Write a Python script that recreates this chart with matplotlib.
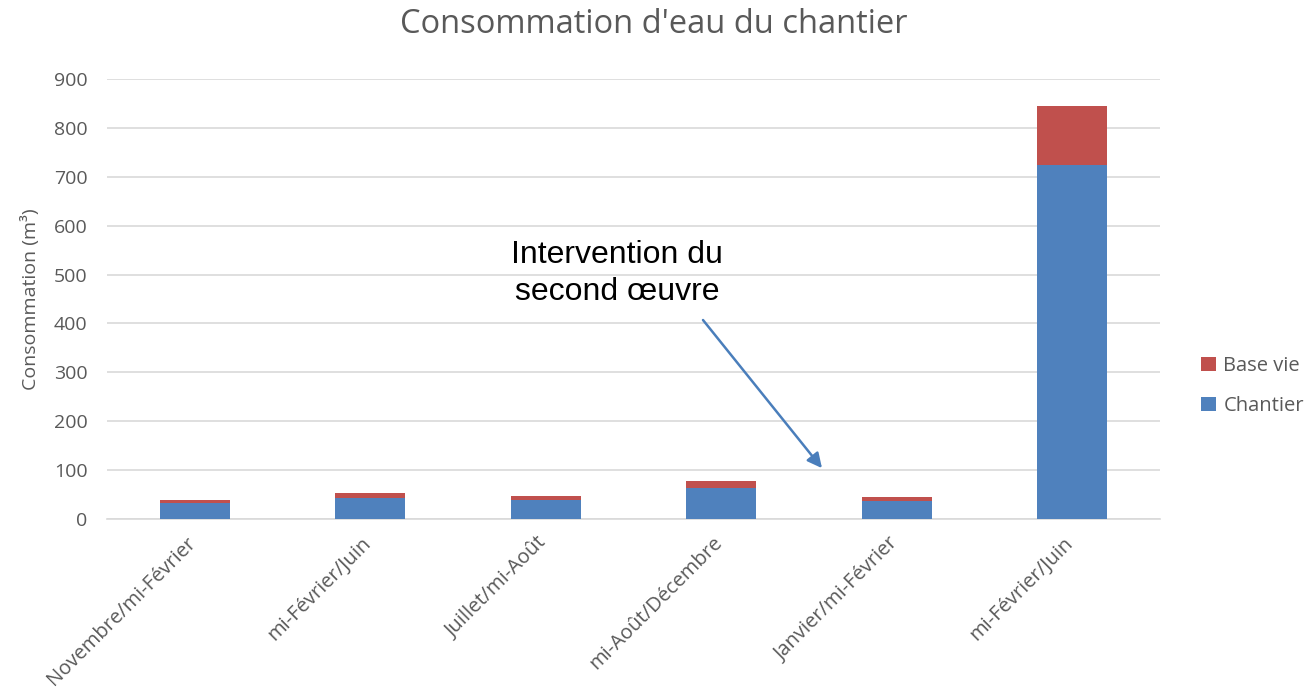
import matplotlib
matplotlib.use("Agg")
import matplotlib.pyplot as plt
import matplotlib.transforms as mtransforms
import numpy as np

categories = ["Novembre/mi-Février", "mi-Février/Juin", "Juillet/mi-Août",
              "mi-Août/Décembre", "Janvier/mi-Février", "mi-Février/Juin"]
chantier = [33, 43, 38, 63, 37, 724]
base_vie = [6, 11, 10, 15, 9, 120]
yticks = [0, 100, 200, 300, 400, 500, 600, 700, 800, 900]

plt.rcParams['font.family'] = ['Open Sans', 'DejaVu Sans']
gray = '#595959'
blue = '#4f81bd'
red = '#c0504d'

fig = plt.figure(figsize=(13.08, 7.0), dpi=100)
ax = fig.add_axes([107/1308, 1 - 519/700, (1160-107)/1308, (519-79)/700])

x = np.arange(len(categories))
b1 = ax.bar(x, chantier, width=0.4, color=blue, label='Chantier', zorder=3)
b2 = ax.bar(x, base_vie, width=0.4, bottom=chantier, color=red, label='Base vie', zorder=3)

ax.set_xlim(-0.5, len(categories) - 0.5)
ax.set_ylim(0, 900)
ax.set_yticks(yticks)
ax.set_yticklabels([str(v) for v in yticks], fontsize=14, color=gray)
ax.yaxis.grid(True, color='#d9d9d9', linewidth=1.2, zorder=0)
ax.set_axisbelow(True)
for s in ['top', 'right', 'left']:
    ax.spines[s].set_visible(False)
ax.spines['bottom'].set_color('#d9d9d9')
ax.spines['bottom'].set_linewidth(1.2)
ax.tick_params(axis='both', length=0)
ax.tick_params(axis='y', pad=14)
ax.set_xticks(x)
ax.set_xticklabels(categories, rotation=45, ha='right', rotation_mode='anchor',
                   fontsize=14.5, color=gray)
ax.tick_params(axis='x', pad=10)
offset = mtransforms.ScaledTranslation(-9/100, 0, fig.dpi_scale_trans)
for lbl in ax.get_xticklabels():
    lbl.set_transform(lbl.get_transform() + offset)
ax.set_ylabel('Consommation (m³)', fontsize=14, color=gray, labelpad=10)

fig.suptitle("Consommation d'eau du chantier", fontsize=23.5, color=gray,
             y=1 - 8/700, va='top')

ax.annotate('', xy=(3.574, 104), xytext=(2.896, 407),
            arrowprops=dict(arrowstyle='-|>', color='#4a7ebb', lw=1.8,
                            mutation_scale=22, shrinkA=0, shrinkB=0))
ax.text(2.406, 502, "Intervention du\nsecond œuvre", ha='center', va='center',
        fontsize=23, color='black', family=['Liberation Sans', 'DejaVu Sans'],
        linespacing=1.3)

handles = [b2, b1]
fig.legend(handles, ['Base vie', 'Chantier'], loc='center left',
           bbox_to_anchor=(1183/1308, 1 - 386/700), frameon=False,
           fontsize=14.5, labelcolor=gray, handlelength=0.75, handleheight=0.75,
           handletextpad=0.35, labelspacing=1.0)

fig.savefig('out.png', dpi=100)
